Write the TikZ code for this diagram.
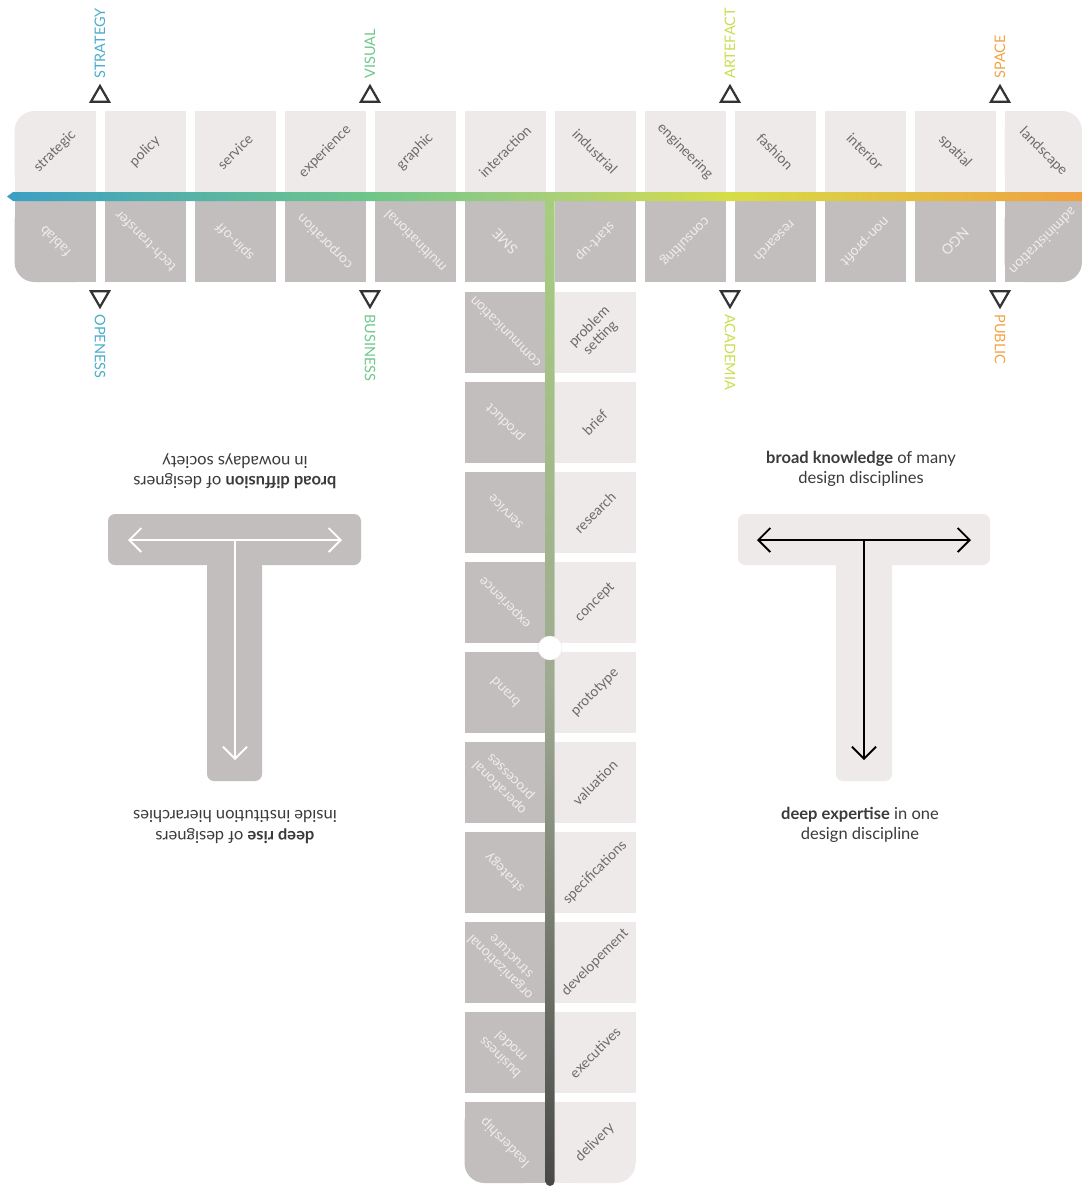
\documentclass[tikz,border=0pt]{standalone}
\usepackage{fontspec}
\setmainfont{Lato}
\usepackage{xcolor}
\definecolor{pale}{HTML}{EEEAE9}
\definecolor{dusk}{HTML}{C2BEBD}
\definecolor{palefg}{HTML}{6E6A69}
\definecolor{duskfg}{HTML}{EFEDEC}
\definecolor{ink}{HTML}{3C3A3A}
\definecolor{trigrey}{HTML}{333333}
\definecolor{strategyc}{HTML}{4BADCB}
\definecolor{visualc}{HTML}{70C88B}
\definecolor{artefactc}{HTML}{CBDD50}
\definecolor{spacec}{HTML}{F2A445}
\definecolor{bandA}{HTML}{3B9FC5}
\definecolor{bandB}{HTML}{6FC68A}
\definecolor{bandC}{HTML}{A8CF7A}
\definecolor{bandD}{HTML}{D6DD46}
\definecolor{bandE}{HTML}{F0A141}
\definecolor{stemtop}{HTML}{A6CE7F}
\definecolor{stemmid}{HTML}{9FAA92}
\definecolor{stembot}{HTML}{484848}
\usetikzlibrary{arrows.meta,positioning,shapes.geometric}
\pgfdeclarehorizontalshading{fieldband}{100bp}{color(0bp)=(bandA); color(25bp)=(bandA); color(41.9bp)=(bandB); color(50.3bp)=(bandC); color(58.6bp)=(bandD); color(75bp)=(bandE); color(100bp)=(bandE)}
\tikzset{barb/.tip={Straight Barb[length=12pt,width=24pt]}}

\begin{document}
\begin{tikzpicture}[x=1pt, y=-1pt,
		font=\fontsize{14}{15.5}\selectfont,
		cell/.style={rectangle, minimum width=81pt, minimum height=81pt, inner sep=0pt},
		palecell/.style={cell, fill=pale},
		duskcell/.style={cell, fill=dusk},
		palelab/.style={text=palefg, align=center, inner sep=0pt},
		dusklab/.style={text=duskfg, align=center, inner sep=0pt},
		marker/.style={regular polygon, regular polygon sides=3, draw=trigrey, fill=white, line width=2.2pt, minimum size=21pt, inner sep=0pt},
		heading/.style={font=\fontsize{14.5}{16}\selectfont, inner sep=0pt},
		tee/.style={rounded corners=7pt},
		caption/.style={font=\fontsize{16.5}{20.5}\selectfont, text=ink, align=center},
		teearrow/.style={line width=1.9pt, barb-barb},
		stemarrow/.style={line width=1.9pt, -barb}]
			\useasboundingbox (0,0) rectangle (1082,1187);
			\fill[white] (0,0) rectangle (1082,1187);

			% Left T, dark, upside down captions
			\fill[dusk, tee] (207,550) rectangle (262,781);
			\fill[dusk, tee] (108,514) rectangle (361,565);
			\coordinate (lw) at (128,540);
			\coordinate (le) at (342,540);
			\coordinate (lm) at (235,540);
			\coordinate (ls) at (235,760);
			\draw[white, teearrow] (lw) -- (le);
			\draw[white, stemarrow] (lm) -- (ls);
			\node[caption, rotate=180] (diffusion) at (235,471) {\textbf{broad diffusion} of designers\\in nowadays society};
			\node[caption, rotate=180] (rise) at (235,827) {\textbf{deep rise} of designers\\inside institution hierarchies};

			% Right T, pale
			\fill[pale, tee] (836,550) rectangle (892,781);
			\fill[pale, tee] (738,514) rectangle (990,565);
			\coordinate (rw) at (757,540);
			\coordinate (re) at (971,540);
			\coordinate (rm) at (864,540);
			\coordinate (rs) at (864,760);
			\draw[black, teearrow] (rw) -- (re);
			\draw[black, stemarrow] (rm) -- (rs);
			\node[caption] (knowledge) at (861,469) {\textbf{broad knowledge} of many\\design disciplines};
			\node[caption] (expertise) at (860,825) {\textbf{deep expertise} in one\\design discipline};

			% Upper band: disciplines
			\fill[pale] (34.5,111) rectangle (95.5,192);
			\fill[pale] (14.5,131) rectangle (95.5,192);
			\node[palecell, rounded corners=20pt] (hi0) at (55,151.5) {};
			\node[palelab, rotate=45] (hi0-t) at (hi0) {strategic};
			\foreach \lab/\ang [count=\i] in {policy/45, service/45, experience/45, graphic/45, interaction/45, industrial/-45, engineering/-45, fashion/-45, interior/-45, spatial/-45}{
				\node[palecell] (hi\i) at (55+90*\i,151.5) {};
				\node[palelab, rotate=\ang] (hi\i-t) at (hi\i) {\lab};
			}
			\fill[pale] (1004.5,111) rectangle (1062,192);
			\fill[pale] (1004.5,131) rectangle (1082,192);
			\node[palecell, minimum width=77.5pt, rounded corners=20pt] (hi11) at (1043.25,151.5) {};
			\node[palelab, rotate=-45] (hi11-t) at (hi11) {landscape};

			% Lower band: organisations
			\fill[dusk] (34.5,201) rectangle (95.5,282);
			\fill[dusk] (14.5,201) rectangle (95.5,262);
			\node[duskcell, rounded corners=20pt] (lo0) at (55,241.5) {};
			\node[dusklab, rotate=135] (lo0-t) at (lo0) {fablab};
			\foreach \lab/\ang [count=\i] in {tech-transfer/135, spin-off/135, corporation/135, multinational/135, SME/135, start-up/-135, consulting/-135, research/-135, non-profit/-135, NGO/-135}{
				\node[duskcell] (lo\i) at (55+90*\i,241.5) {};
				\node[dusklab, rotate=\ang] (lo\i-t) at (lo\i) {\lab};
			}
			\fill[dusk] (1004.5,201) rectangle (1062,282);
			\fill[dusk] (1004.5,201) rectangle (1082,262);
			\node[duskcell, minimum width=77.5pt, rounded corners=20pt] (lo11) at (1043.25,241.5) {};
			\node[dusklab, rotate=-135] (lo11-t) at (lo11) {administration};

			% Column: domains (left) and process (right)
			\foreach \lab/\mat [count=\j from 0] in {communication/{problem\\setting}, product/brief, service/research, experience/concept, brand/prototype, {operational\\processes}/valuation, strategy/specifications, {organizational\\structure}/developement, {business\\model}/executives}{
				\node[duskcell] (colL\j) at (505,332.5+90*\j) {};
				\node[dusklab, rotate=135] (colL\j-t) at (colL\j) {\lab};
				\node[palecell] (colR\j) at (595,332.5+90*\j) {};
				\node[palelab, rotate=45] (colR\j-t) at (colR\j) {\mat};
			}
			\fill[dusk] (484.5,1102) rectangle (545.5,1183);
			\fill[dusk] (464.5,1102) rectangle (545.5,1163);
			\node[duskcell, rounded corners=20pt] (colL9) at (505,1142.5) {};
			\node[dusklab, rotate=135] (colL9-t) at (colL9) {leadership};
			\fill[pale] (554.5,1102) rectangle (615.5,1183);
			\fill[pale] (554.5,1102) rectangle (635.5,1163);
			\node[palecell, rounded corners=20pt] (colR9) at (595,1142.5) {};
			\node[palelab, rotate=45] (colR9-t) at (colR9) {delivery};

			% Stem and band bar
			\shade[top color=stemtop, bottom color=stembot, middle color=stemmid, rounded corners=4.5pt] (545.5,196) rectangle (554.5,1186);
			\shade[shading=fieldband] (7,196.5) -- (13,192) -- (1082,192) -- (1082,201) -- (13,201) -- cycle;
			\node[circle, fill=white, draw=black!8, minimum size=24pt, inner sep=0pt] (hub) at (550,648) {};

			% Markers and axis names
			\foreach \x/\col/\toplab/\botlab [count=\k] in {100/strategyc/STRATEGY/OPENESS, 370/visualc/VISUAL/BUSINESS, 730/artefactc/ARTEFACT/ACADEMIA, 1000/spacec/SPACE/PUBLIC}{
				\node[marker] (up\k) at (\x,96.5) {};
				\node[marker, shape border rotate=180] (down\k) at (\x,296.5) {};
				\node[heading, text=\col, rotate=90, above=5pt of up\k, anchor=west] (up\k-t) {\toplab};
				\node[heading, text=\col, rotate=-90, below=5pt of down\k, anchor=west] (down\k-t) {\botlab};
			}
		\end{tikzpicture}
\end{document}
